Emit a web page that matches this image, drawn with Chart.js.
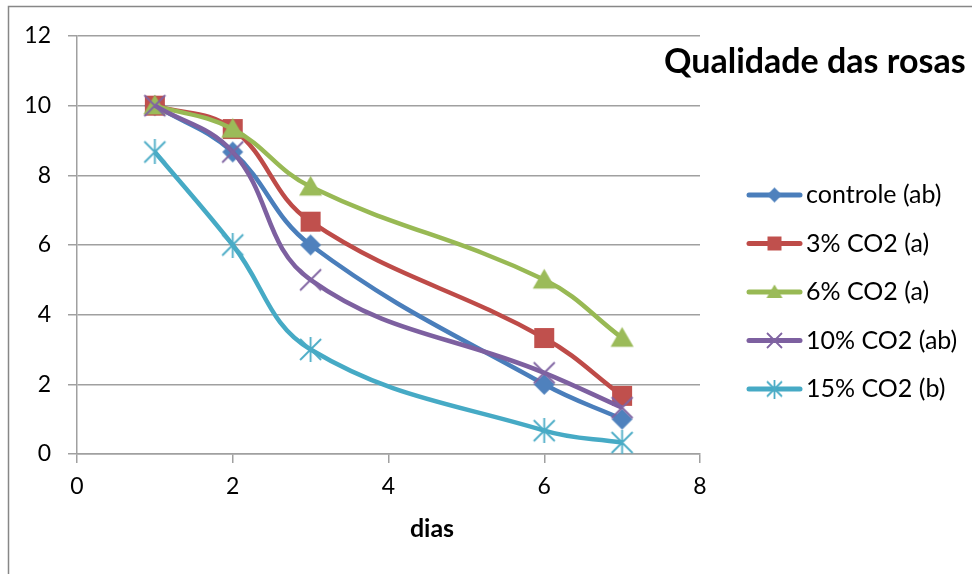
<!DOCTYPE html>
<html>
<head>
<meta charset="utf-8">
<script src="https://cdn.jsdelivr.net/npm/chart.js@4.4.0/dist/chart.umd.min.js"></script>
<style>
  body { margin: 0; background: #fff; }
  #wrap { width: 972px; height: 574px; }
</style>
</head>
<body>
<div id="wrap"><canvas id="rosas"></canvas></div>
<script>
var dias = [1, 2, 3, 6, 7];
var controle = [10, 8.67, 6, 2, 1];
var co2_3 = [10, 9.33, 6.67, 3.33, 1.67];
var co2_6 = [10, 9.33, 7.67, 5, 3.33];
var co2_10 = [10, 8.67, 5, 2.33, 1.33];
var co2_15 = [8.67, 6, 3, 0.67, 0.33];
var nomes = ["controle (ab)", "3% CO2 (a)", "6% CO2 (a)", "10% CO2 (ab)", "15% CO2 (b)"];
var series = [controle, co2_3, co2_6, co2_10, co2_15];
var linhas = ["#4A7EBB", "#BE4B48", "#98B954", "#7D60A0", "#46AAC5"];
var pontos = ["#4F81BD", "#C0504D", "#9BBB59", "#8064A2", "#4BACC6"];
var formas = ["diamond", "square", "triangle", "x", "star"];

var FONT = "Lato, 'Open Sans', sans-serif";

function marker(kind, color, s) {
	var c = document.createElement('canvas');
	var n = Math.ceil(s + 4);
	c.width = n; c.height = n;
	var g = c.getContext('2d');
	var m = n / 2, r = s / 2;
	g.fillStyle = color;
	g.strokeStyle = color;
	g.beginPath();
	if (kind == 'diamond') {
		g.moveTo(m, m - r); g.lineTo(m + r, m); g.lineTo(m, m + r); g.lineTo(m - r, m);
		g.closePath(); g.fill();
	} else if (kind == 'square') {
		g.rect(m - r, m - r, 2 * r, 2 * r); g.fill();
	} else if (kind == 'triangle') {
		g.moveTo(m, m - r * 0.95); g.lineTo(m + r, m + r * 0.75); g.lineTo(m - r, m + r * 0.75);
		g.closePath(); g.fill();
	} else if (kind == 'x') {
		g.lineWidth = 1.8;
		g.moveTo(m - r, m - r); g.lineTo(m + r, m + r);
		g.moveTo(m + r, m - r); g.lineTo(m - r, m + r);
		g.stroke();
	} else {
		g.lineWidth = 1.8;
		g.moveTo(m - r, m - r); g.lineTo(m + r, m + r);
		g.moveTo(m + r, m - r); g.lineTo(m - r, m + r);
		g.moveTo(m, m - r * 1.3); g.lineTo(m, m + r * 1.3);
		g.stroke();
	}
	return c;
}

var tamanhos = [21, 20, 23, 21, 21];
var tamLegenda = [15, 14, 16, 15, 15];

var datasets = series.map(function (vals, i) {
	return {
		label: nomes[i],
		data: vals.map(function (v, k) { return { x: dias[k], y: v }; }),
		borderColor: linhas[i],
		backgroundColor: pontos[i],
		borderWidth: 4.5,
		tension: 0.4,
		pointStyle: marker(formas[i], pontos[i], tamanhos[i]),
		pointRadius: 10,
		order: 4 - i
	};
});

var extras = {
	id: 'extras',
	afterDraw: function (chart) {
		var ctx = chart.ctx;
		ctx.save();
		// outer frame
		ctx.strokeStyle = '#878787';
		ctx.lineWidth = 1.5;
		ctx.beginPath();
		ctx.moveTo(8.5, 574); ctx.lineTo(8.5, 6.5); ctx.lineTo(972, 6.5);
		ctx.stroke();

		ctx.fillStyle = '#000';
		ctx.textBaseline = 'middle';
		ctx.font = "bold 34px " + FONT;
		ctx.textAlign = 'left';
		ctx.fillText("Qualidade das rosas", 664, 62);

		ctx.font = "bold 25px " + FONT;
		ctx.textAlign = 'center';
		ctx.fillText("dias", 432, 529);

		// legend
		ctx.font = "25px " + FONT;
		ctx.textAlign = 'left';
		for (var i = 0; i < nomes.length; i++) {
			var y = 195 + i * 48.5;
			ctx.strokeStyle = linhas[i];
			ctx.lineWidth = 5;
			ctx.lineCap = 'round';
			ctx.beginPath();
			ctx.moveTo(749, y); ctx.lineTo(800, y);
			ctx.stroke();
			var mk = marker(formas[i], pontos[i], tamLegenda[i]);
			ctx.drawImage(mk, 774.5 - mk.width / 2, y - mk.height / 2);
			ctx.fillStyle = '#000';
			ctx.fillText(nomes[i], 806, y);
		}
		ctx.restore();
	}
};

new Chart(document.getElementById("rosas"), {
	type: 'line',
	data: { datasets: datasets },
	options: {
		responsive: true,
		maintainAspectRatio: false,
		animation: false,
		layout: { padding: { top: 36, right: 272, left: 0, bottom: 0 } },
		plugins: {
			legend: { display: false },
			title: { display: false },
			tooltip: { enabled: false }
		},
		scales: {
			x: {
				type: 'linear',
				min: 0,
				max: 8,
				ticks: { stepSize: 2, color: '#000', font: { family: FONT, size: 23 }, padding: 10 },
				grid: { drawOnChartArea: false, drawTicks: true, tickLength: 9, color: '#A0A0A0', lineWidth: 1.5 },
				border: { color: '#A0A0A0', width: 1.5 },
				afterFit: function (s) { s.height = 120; }
			},
			y: {
				min: 0,
				max: 12,
				ticks: { stepSize: 2, color: '#000', font: { family: FONT, size: 23 }, padding: 17 },
				grid: { color: '#A0A0A0', lineWidth: 1.5, tickLength: 9 },
				border: { color: '#A0A0A0', width: 1.5 },
				afterFit: function (s) { s.width = 77; }
			}
		}
	},
	plugins: [extras]
});
</script>
</body>
</html>
